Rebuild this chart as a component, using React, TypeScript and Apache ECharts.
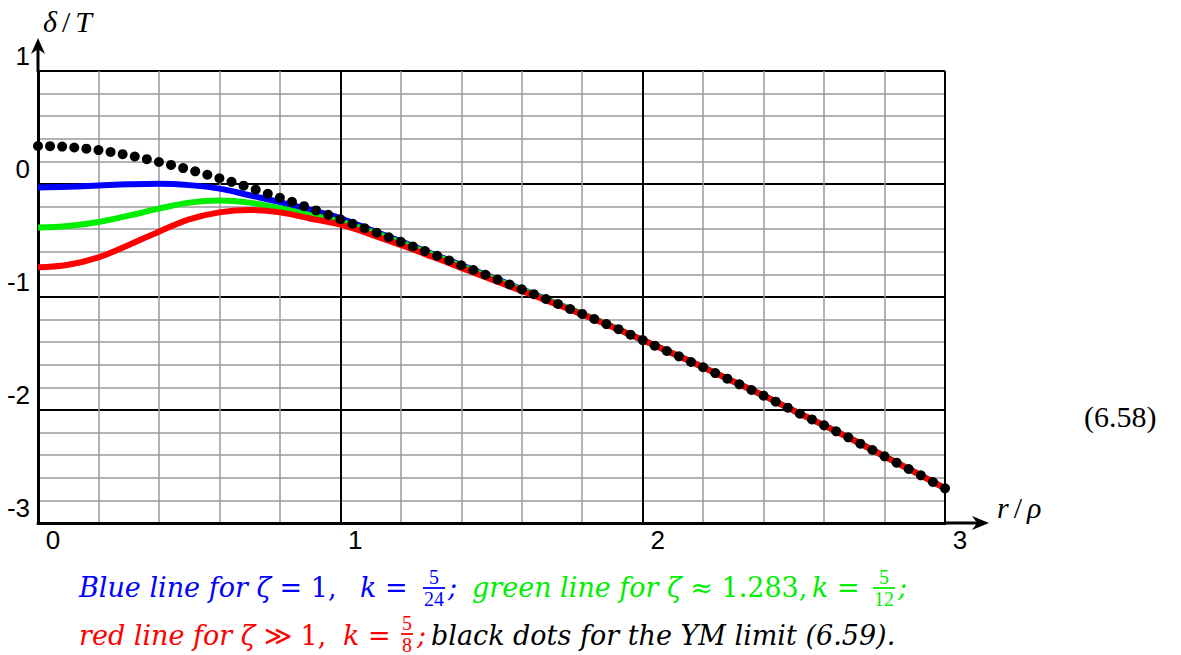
import React, { useEffect, useRef } from "react";
import * as echarts from "echarts";

// ---- data ----
const LINE_X = [0, 0.1, 0.2, 0.3, 0.4, 0.5, 0.6, 0.7, 0.8, 0.9, 1.0, 1.1, 1.2, 1.3, 1.4, 1.5, 1.6, 1.7, 1.8, 1.9, 2.0, 2.1, 2.2, 2.3, 2.4, 2.5, 2.6, 2.7, 2.8, 2.9, 3.0];
const BLUE_Y = [-0.030, -0.025, -0.014, -0.003, 0.002, -0.010, -0.041, -0.100, -0.160, -0.228, -0.303, -0.405, -0.508, -0.613, -0.717, -0.824, -0.931, -1.040, -1.150, -1.263, -1.381, -1.500, -1.622, -1.748, -1.873, -2.006, -2.136, -2.270, -2.410, -2.550, -2.693];
const GREEN_Y = [-0.386, -0.372, -0.336, -0.280, -0.218, -0.165, -0.147, -0.165, -0.215, -0.275, -0.333, -0.420, -0.518, -0.620, -0.725, -0.830, -0.936, -1.042, -1.150, -1.263, -1.381, -1.500, -1.622, -1.748, -1.873, -2.006, -2.136, -2.270, -2.410, -2.550, -2.693];
const RED_Y = [-0.737, -0.714, -0.649, -0.540, -0.422, -0.313, -0.251, -0.230, -0.251, -0.305, -0.360, -0.445, -0.540, -0.640, -0.742, -0.845, -0.946, -1.050, -1.155, -1.265, -1.381, -1.500, -1.622, -1.748, -1.873, -2.006, -2.136, -2.270, -2.410, -2.550, -2.693];

const DOT_X = [
  0, 0.04, 0.08, 0.12, 0.16, 0.2, 0.24, 0.28, 0.32, 0.36, 0.4, 0.44, 0.48, 0.52, 0.56, 0.6, 0.64, 0.68, 0.72, 0.76, 0.8, 0.84, 0.88, 0.92, 0.96, 1.0,
  1.04, 1.08, 1.12, 1.16, 1.2, 1.24, 1.28, 1.32, 1.36, 1.4, 1.44, 1.48, 1.52, 1.56, 1.6, 1.64, 1.68, 1.72, 1.76, 1.8, 1.84, 1.88, 1.92, 1.96, 2.0,
  2.04, 2.08, 2.12, 2.16, 2.2, 2.24, 2.28, 2.32, 2.36, 2.4, 2.44, 2.48, 2.52, 2.56, 2.6, 2.64, 2.68, 2.72, 2.76, 2.8, 2.84, 2.88, 2.92, 2.96, 3.0,
];
const DOT_Y = [
  0.336, 0.335, 0.331, 0.323, 0.313, 0.300, 0.283, 0.264, 0.243, 0.220, 0.195, 0.169, 0.141, 0.112, 0.082, 0.051, 0.019, -0.015, -0.050, -0.086, -0.122, -0.158, -0.196, -0.234, -0.273, -0.312,
  -0.351, -0.391, -0.431, -0.471, -0.512, -0.553, -0.594, -0.635, -0.677, -0.719, -0.761, -0.803, -0.846, -0.889, -0.932, -0.975, -1.018, -1.062, -1.106, -1.150, -1.195, -1.240, -1.285, -1.333, -1.381,
  -1.431, -1.478, -1.525, -1.575, -1.622, -1.673, -1.723, -1.773, -1.823, -1.873, -1.926, -1.979, -2.033, -2.083, -2.136, -2.189, -2.242, -2.298, -2.354, -2.410, -2.466, -2.522, -2.578, -2.637, -2.693,
];

const X_MIN = 0, X_MAX = 3, X_STEP = 1;
const Y_MIN = -3, Y_MAX = 1, Y_STEP = 1;

const SERIF = "'Liberation Serif', serif";
const CAP = "'DejaVu Serif', serif";
const SANS = "'Liberation Sans', Arial, sans-serif";

const BLUE = "#0000ff";
const GREEN = "#00ee00";
const RED = "#ff0000";
const BLACK = "#000000";

// caption chunks: [x, rich text]
type Chunk = [number, string];
const CAPTION_1_BLUE: Chunk[] = [[79, "{i|Blue line for ζ}{n| = 1,}"], [360, "{i|k}{n| =}"], [448, "{i|;}"]];
const CAPTION_1_GREEN: Chunk[] = [[472, "{i|green line for ζ}{n| ≈ 1.283,}"], [812, "{i|k}{n| =}"], [898, "{i|;}"]];
const CAPTION_2_RED: Chunk[] = [[79, "{i|red line for ζ}{n| ≫ 1,}"], [343, "{i|k}{n| =}"], [417, "{i|;}"]];
const CAPTION_2_BLACK: Chunk[] = [[431, "{i|black dots for the YM limit (6.59).}"]];

const pairs = (xs: number[], ys: number[]) => xs.map((x, i) => [x, ys[i]]);

function chunks(list: Chunk[], y: number, color: string) {
  return list.map(([x, text]) => ({
    type: "text",
    x,
    y,
    style: {
      text,
      rich: {
        i: { fontFamily: CAP, fontStyle: "italic", fontSize: 27, fill: color },
        n: { fontFamily: CAP, fontStyle: "normal", fontSize: 27, fill: color },
      },
      fill: color,
      verticalAlign: "middle",
      align: "left",
    },
  }));
}

function fraction(cx: number, yBar: number, num: string, den: string, halfW: number, color: string) {
  const base = { fill: color, fontFamily: SERIF, fontSize: 20, align: "center" };
  return [
    {
      type: "text",
      x: cx,
      y: yBar - 1,
      style: { ...base, text: num, verticalAlign: "bottom" },
    },
    {
      type: "line",
      shape: { x1: cx - halfW, y1: yBar, x2: cx + halfW, y2: yBar },
      style: { stroke: color, lineWidth: 1.8 },
    },
    {
      type: "text",
      x: cx,
      y: yBar + 1,
      style: { ...base, text: den, verticalAlign: "top" },
    },
  ];
}

export default function App() {
  const ref = useRef<HTMLDivElement>(null);

  useEffect(() => {
    if (!ref.current) return;
    const chart = echarts.init(ref.current, undefined, { renderer: "svg" });

    const option: any = {
      animation: false,
      backgroundColor: "#ffffff",
      grid: { left: 38, top: 71, width: 907, height: 452, containLabel: false },
      xAxis: {
        type: "value",
        min: X_MIN,
        max: X_MAX,
        interval: X_STEP,
        axisLine: { show: true, onZero: false, lineStyle: { color: "#000", width: 3 } },
        axisTick: { show: false },
        minorTick: { show: false, splitNumber: 5 },
        axisLabel: {
          color: "#000",
          fontFamily: SANS,
          fontSize: 26,
          margin: 4,
          padding: [0, 0, 0, 30],
        },
        splitLine: { show: true, lineStyle: { color: "#000", width: 2 } },
        minorSplitLine: { show: true, lineStyle: { color: "#9a9a9a", width: 1.5 } },
      },
      yAxis: {
        type: "value",
        min: Y_MIN,
        max: Y_MAX,
        interval: Y_STEP,
        axisLine: { show: true, onZero: false, lineStyle: { color: "#000", width: 3 } },
        axisTick: { show: false },
        minorTick: { show: false, splitNumber: 5 },
        axisLabel: {
          color: "#000",
          fontFamily: SANS,
          fontSize: 26,
          margin: 8,
          verticalAlign: "bottom",
          lineHeight: 30,
        },
        splitLine: { show: true, lineStyle: { color: "#000", width: 2 } },
        minorSplitLine: { show: true, lineStyle: { color: "#9a9a9a", width: 1.5 } },
      },
      series: [
        {
          type: "line",
          name: "blue",
          data: pairs(LINE_X, BLUE_Y),
          smooth: 0.4,
          showSymbol: false,
          lineStyle: { color: BLUE, width: 6 },
          z: 2,
        },
        {
          type: "line",
          name: "green",
          data: pairs(LINE_X, GREEN_Y),
          smooth: 0.4,
          showSymbol: false,
          lineStyle: { color: GREEN, width: 6 },
          z: 3,
        },
        {
          type: "line",
          name: "red",
          data: pairs(LINE_X, RED_Y),
          smooth: 0.4,
          showSymbol: false,
          lineStyle: { color: RED, width: 6 },
          z: 4,
        },
        {
          type: "scatter",
          name: "YM limit",
          data: pairs(DOT_X, DOT_Y),
          symbol: "circle",
          symbolSize: 10,
          itemStyle: { color: "#000", opacity: 1 },
          z: 5,
        },
      ],
      graphic: [
        // axis extensions with arrowheads
        { type: "line", shape: { x1: 38, y1: 72, x2: 38, y2: 44 }, style: { stroke: "#000", lineWidth: 3 } },
        {
          type: "polygon",
          shape: { points: [[38, 38], [45, 54], [38, 49], [31, 54]] },
          style: { fill: "#000" },
        },
        { type: "line", shape: { x1: 944, y1: 523, x2: 980, y2: 523 }, style: { stroke: "#000", lineWidth: 3 } },
        {
          type: "polygon",
          shape: { points: [[989, 523], [972, 530], [977, 523], [972, 516]] },
          style: { fill: "#000" },
        },
        // axis names
        {
          type: "text",
          x: 43,
          y: 21,
          style: {
            text: "{i|δ}{s|/}{i|T}",
            rich: {
              i: { fontFamily: SERIF, fontStyle: "italic", fontSize: 30, fill: "#000" },
              s: { fontFamily: SERIF, fontSize: 30, fill: "#000", padding: [0, 5, 0, 5] },
            },
            verticalAlign: "middle",
          },
        },
        {
          type: "text",
          x: 997,
          y: 507,
          style: {
            text: "{i|r}{s|/}{i|ρ}",
            rich: {
              i: { fontFamily: SERIF, fontStyle: "italic", fontSize: 30, fill: "#000" },
              s: { fontFamily: SERIF, fontSize: 30, fill: "#000", padding: [0, 5, 0, 5] },
            },
            verticalAlign: "middle",
          },
        },
        {
          type: "text",
          x: 1084,
          y: 416,
          style: { text: "(6.58)", font: `30px ${SERIF}`, fill: "#000", verticalAlign: "middle" },
        },
        // caption line 1
        ...chunks(CAPTION_1_BLUE, 587, BLUE),
        ...fraction(434, 588, "5", "24", 11, BLUE),
        ...chunks(CAPTION_1_GREEN, 587, GREEN),
        ...fraction(884, 588, "5", "12", 11, GREEN),
        // caption line 2
        ...chunks(CAPTION_2_RED, 635, RED),
        ...fraction(407, 634, "5", "8", 6, RED),
        ...chunks(CAPTION_2_BLACK, 635, BLACK),
      ],
    };

    chart.setOption(option);
    return () => chart.dispose();
  }, []);

  return (
    <div
      ref={ref}
      style={{ position: "absolute", left: 0, top: 0, width: 1181, height: 655, background: "#fff" }}
    />
  );
}
